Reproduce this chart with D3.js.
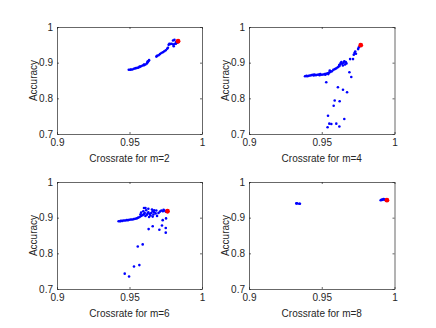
<!DOCTYPE html>
<html>
<head>
<meta charset="utf-8">
<script src="https://cdn.jsdelivr.net/npm/d3@7"></script>
<style>
  body { margin: 0; background: #fff; }
  svg { display: block; font-family: "Liberation Sans", Arial, sans-serif; }
</style>
</head>
<body>
<div id="chart"></div>
<script>
// tick values shared by all four panels
var xTicks = [0.9, 0.95, 1];
var yTicks = [0.7, 0.8, 0.9, 1];
var mValues = [2, 4, 6, 8];

// blue dots, one list per m as [crossrate, accuracy]
var pointsM2 = [
  [0.9495,0.880],[0.9505,0.880],[0.951,0.881],[0.952,0.881],[0.953,0.883],[0.954,0.884],
  [0.955,0.885],[0.956,0.886],[0.957,0.888],[0.958,0.890],[0.959,0.892],[0.960,0.893],
  [0.961,0.895],[0.962,0.898],[0.9625,0.901],[0.963,0.904],[0.9635,0.907],[0.9625,0.903],
  [0.960,0.895],[0.957,0.889],[0.9545,0.885],
  [0.9685,0.917],[0.969,0.919],[0.970,0.921],[0.971,0.924],[0.972,0.927],[0.973,0.929],
  [0.974,0.932],[0.975,0.935],[0.976,0.939],[0.9765,0.942],
  [0.977,0.950],[0.978,0.952],[0.979,0.953],[0.980,0.951],[0.981,0.952],[0.982,0.953],
  [0.9775,0.953],[0.9805,0.946],[0.980,0.962],[0.981,0.964],[0.982,0.958],[0.983,0.956]
];
var pointsM4 = [
  [0.9385,0.862],[0.9395,0.863],[0.940,0.862],[0.941,0.863],[0.942,0.864],[0.943,0.865],
  [0.944,0.866],[0.9445,0.864],[0.945,0.867],[0.946,0.865],[0.947,0.866],[0.948,0.867],
  [0.9485,0.865],[0.949,0.868],[0.950,0.866],[0.951,0.867],[0.952,0.868],[0.9525,0.866],
  [0.953,0.869],[0.954,0.870],[0.9545,0.868],[0.955,0.872],[0.956,0.874],[0.9555,0.878],
  [0.957,0.876],[0.958,0.880],[0.959,0.882],[0.960,0.884],[0.961,0.887],[0.962,0.890],
  [0.9625,0.895],[0.963,0.899],[0.9635,0.902],[0.964,0.897],[0.965,0.900],[0.9655,0.904],
  [0.966,0.895],[0.9665,0.902],[0.967,0.898],[0.962,0.893],[0.9645,0.892],
  [0.9695,0.910],[0.9715,0.910],[0.972,0.922],[0.9725,0.927],[0.973,0.931],[0.9735,0.925],
  [0.975,0.938],[0.9755,0.943],
  [0.969,0.873],[0.9703,0.860],[0.9531,0.845],[0.9611,0.831],[0.9646,0.824],[0.9674,0.817],
  [0.9589,0.794],[0.9623,0.792],[0.9582,0.779],[0.9543,0.751],[0.9552,0.729],[0.9566,0.728],
  [0.960,0.729],[0.9621,0.721],[0.9655,0.742],[0.954,0.719]
];
var pointsM6 = [
  [0.9425,0.890],[0.9435,0.890],[0.944,0.891],[0.945,0.891],[0.946,0.892],[0.947,0.892],
  [0.948,0.893],[0.949,0.893],[0.950,0.894],[0.951,0.895],[0.952,0.895],[0.953,0.896],
  [0.954,0.897],[0.955,0.898],[0.956,0.900],[0.957,0.902],[0.958,0.905],[0.959,0.907],
  [0.960,0.910],[0.9605,0.913],[0.961,0.905],[0.962,0.908],[0.9625,0.912],[0.963,0.915],
  [0.964,0.910],[0.9645,0.906],[0.965,0.913],[0.966,0.918],[0.9665,0.909],[0.967,0.915],
  [0.968,0.912],[0.9685,0.920],[0.969,0.905],[0.970,0.913],[0.971,0.917],[0.972,0.920],
  [0.973,0.918],[0.9735,0.922],[0.974,0.920],[0.975,0.917],[0.960,0.927],[0.961,0.927],
  [0.963,0.925],[0.9655,0.923],[0.967,0.921],[0.958,0.914],[0.9575,0.909],[0.9595,0.918],
  [0.9615,0.921],[0.9635,0.902],[0.966,0.903],
  [0.9632,0.868],[0.966,0.876],[0.9706,0.866],[0.9724,0.878],[0.9729,0.893],[0.975,0.871],
  [0.975,0.858],[0.9752,0.898],
  [0.9557,0.819],[0.9591,0.825],[0.9531,0.763],[0.9568,0.767],[0.9467,0.743],[0.9497,0.735]
];
var pointsM8 = [
  [0.9325,0.940],[0.933,0.940],[0.9345,0.939],[0.935,0.939],
  [0.9905,0.949],[0.991,0.950],[0.9915,0.950],[0.992,0.951],[0.9925,0.952],[0.993,0.951],
  [0.9935,0.950],[0.994,0.949]
];
// red marker: best point of each run
var bestPoints = [[0.9835,0.960],[0.9768,0.949],[0.9762,0.918],[0.9948,0.949]];

var allPoints = [pointsM2, pointsM4, pointsM6, pointsM8];

var W = 436, H = 328;
var cols = [[57, 202], [249, 394.5]];
var rows = [[27, 134], [182, 289]];
var ink = "#262626";

var svg = d3.select("#chart").append("svg")
  .attr("width", W).attr("height", H);

mValues.forEach(function(m, i) {
  var c = cols[i % 2], r = rows[Math.floor(i / 2)];
  var x = d3.scaleLinear().domain([0.9, 1]).range(c);
  var y = d3.scaleLinear().domain([0.7, 1]).range([r[1], r[0]]);
  var g = svg.append("g");

  // ticks on all four sides, pointing inwards
  var axes = [
    { a: d3.axisBottom(x).tickValues(xTicks).tickPadding(5), t: "translate(0," + r[1] + ")", lab: true },
    { a: d3.axisTop(x).tickValues(xTicks), t: "translate(0," + r[0] + ")", lab: false },
    { a: d3.axisLeft(y).tickValues(yTicks).tickPadding(4), t: "translate(" + c[0] + ",0)", lab: true },
    { a: d3.axisRight(y).tickValues(yTicks), t: "translate(" + c[1] + ",0)", lab: false }
  ];
  axes.forEach(function(d) {
    d.a.tickSizeInner(-2).tickSizeOuter(0)
      .tickFormat(d.lab ? function(v) { return String(v); } : function() { return ""; });
    var ax = g.append("g").attr("transform", d.t).call(d.a);
    ax.select(".domain").attr("stroke", ink).attr("stroke-width", 0.7);
    ax.selectAll(".tick line").attr("stroke", ink).attr("stroke-width", 0.7);
    ax.selectAll("text").attr("fill", ink).style("font-size", "10px")
      .style("font-family", "'Liberation Sans', Arial, sans-serif");
  });

  g.selectAll("circle.pt").data(allPoints[i]).enter().append("circle")
    .attr("class", "pt")
    .attr("cx", function(d) { return x(d[0]); })
    .attr("cy", function(d) { return y(d[1]); })
    .attr("r", 1.3)
    .attr("fill", "#0000ff");

  g.append("circle")
    .attr("cx", x(bestPoints[i][0]))
    .attr("cy", y(bestPoints[i][1]))
    .attr("r", 2.4)
    .attr("fill", "#ff0000");

  g.append("text")
    .attr("x", (c[0] + c[1]) / 2).attr("y", r[1] + 27.5)
    .attr("text-anchor", "middle").attr("fill", ink).style("font-size", "10px")
    .text("Crossrate for m=" + m);

  g.append("text")
    .attr("transform", "translate(" + (c[0] - 20.5) + "," + ((r[0] + r[1]) / 2) + ") rotate(-90)")
    .attr("text-anchor", "middle").attr("fill", ink).style("font-size", "10px")
    .text("Accuracy");
});
</script>
</body>
</html>
